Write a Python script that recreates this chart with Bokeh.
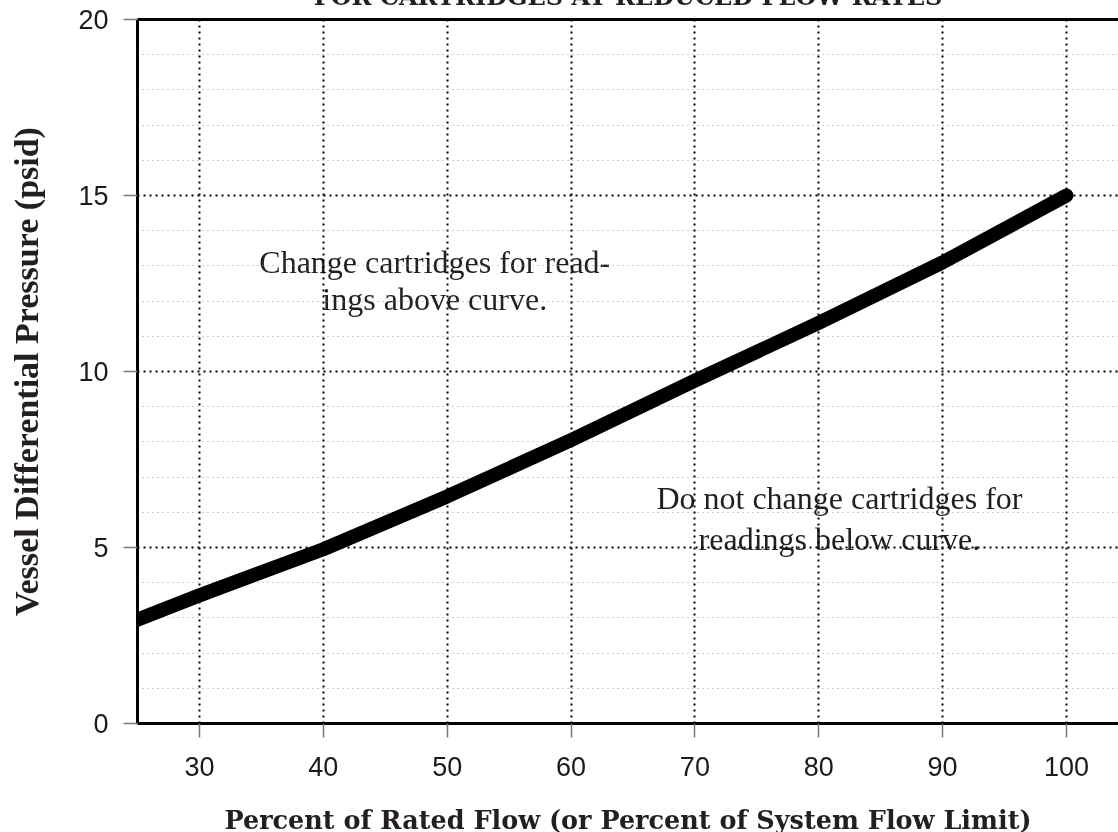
from bokeh.plotting import figure
from bokeh.models import FixedTicker, LinearAxis, Label, Range1d
from bokeh.embed import file_html
from bokeh.resources import INLINE

# Data
flow = [25, 30, 40, 50, 60, 70, 80, 90, 100]
dp = [2.95, 3.64, 4.95, 6.45, 8.05, 9.74, 11.38, 13.1, 15.0]
x_ticks = [30, 40, 50, 60, 70, 80, 90, 100]
y_ticks = [0, 5, 10, 15, 20]
y_minor = [1, 2, 3, 4, 6, 7, 8, 9, 11, 12, 13, 14, 16, 17, 18, 19]

title_text = "FOR CARTRIDGES AT REDUCED FLOW RATES"
x_label = "Percent of Rated Flow (or Percent of System Flow Limit)"
y_label = "Vessel Differential Pressure (psid)"
above_lines = ["Change cartridges for read-", "ings above curve."]
below_lines = ["Do not change cartridges for", "readings below curve."]

TXT = "#231f20"

# The reference is a crop of a taller chart: its title runs off the top edge and
# the x-axis title touches the bottom edge. The canvas is made a little taller and
# pinned 30px above the window's top so the same crop shows.
p = figure(width=1118, height=882, output_backend="svg", toolbar_location=None,
           x_range=Range1d(25, 104.2), y_range=Range1d(0, 20),
           min_border_left=137, min_border_right=0, min_border_top=49,
           min_border_bottom=129,
           styles={"position": "fixed", "top": "-30px", "left": "0px"})
p.outline_line_color = None
p.background_fill_color = "white"
p.border_fill_color = "white"

# x axis
xa = p.xaxis[0]
xa.ticker = FixedTicker(ticks=x_ticks)
xa.minor_tick_line_color = None
xa.major_tick_in = 0
xa.major_tick_out = 14
xa.major_tick_line_color = "#777777"
xa.major_tick_line_width = 1.5
xa.axis_line_color = "black"
xa.axis_line_width = 3
xa.major_label_text_font = "Liberation Sans"
xa.major_label_text_font_size = "27px"
xa.major_label_text_color = "#1a1a1a"
xa.major_label_standoff = 19
xa.axis_label = x_label
xa.axis_label_text_font = "DejaVu Serif"
xa.axis_label_text_font_style = "bold"
xa.axis_label_text_font_size = "25.5px"
xa.axis_label_text_color = TXT
xa.axis_label_standoff = 26

# y axis
ya = p.yaxis[0]
ya.ticker = FixedTicker(ticks=y_ticks, minor_ticks=y_minor)
ya.minor_tick_line_color = None
ya.major_tick_in = 0
ya.major_tick_out = 14
ya.major_tick_line_color = "#777777"
ya.major_tick_line_width = 1.5
ya.axis_line_color = "black"
ya.axis_line_width = 3
ya.major_label_text_font = "Liberation Sans"
ya.major_label_text_font_size = "27px"
ya.major_label_text_color = "#1a1a1a"
ya.major_label_standoff = 15
ya.axis_label = y_label
ya.axis_label_text_font = "Liberation Serif"
ya.axis_label_text_font_style = "bold"
ya.axis_label_text_font_size = "34px"
ya.axis_label_text_color = TXT
ya.axis_label_standoff = 30

# top border line, carrying the chart title
top = LinearAxis(ticker=FixedTicker(ticks=[]), axis_line_width=3, axis_line_color="black",
                 major_tick_line_color=None, minor_tick_line_color=None,
                 major_tick_out=0, major_tick_in=0, major_label_standoff=0,
                 major_label_text_font_size="0px",
                 axis_label=title_text, axis_label_standoff=9,
                 axis_label_text_font="DejaVu Serif", axis_label_text_font_style="bold",
                 axis_label_text_font_size="24px", axis_label_text_color=TXT)
p.add_layout(top, "above")

# grids
p.xgrid.grid_line_color = "black"
p.xgrid.grid_line_dash = "2 4"
p.xgrid.grid_line_width = 2
p.ygrid.grid_line_color = "black"
p.ygrid.grid_line_dash = "2 4"
p.ygrid.grid_line_width = 2
p.ygrid.minor_grid_line_color = "#9a9a9a"
p.ygrid.minor_grid_line_dash = "1 4"
p.ygrid.minor_grid_line_width = 1

# curve
p.line(flow, dp, line_width=14, line_color="black", line_cap="round", line_join="round")

# annotations inside the plot
def add_text(x, y, t):
    p.add_layout(Label(x=x, y=y, text=t, text_align="center", text_baseline="alphabetic",
                       text_font="Liberation Serif", text_font_size="32px",
                       text_color=TXT, level="image"))

add_text(49.0, 13.1, above_lines[0])
add_text(49.0, 12.05, above_lines[1])
add_text(81.67, 6.41, below_lines[0])
add_text(81.67, 5.25, below_lines[1])

open("out.html", "w").write(file_html(p, INLINE))
